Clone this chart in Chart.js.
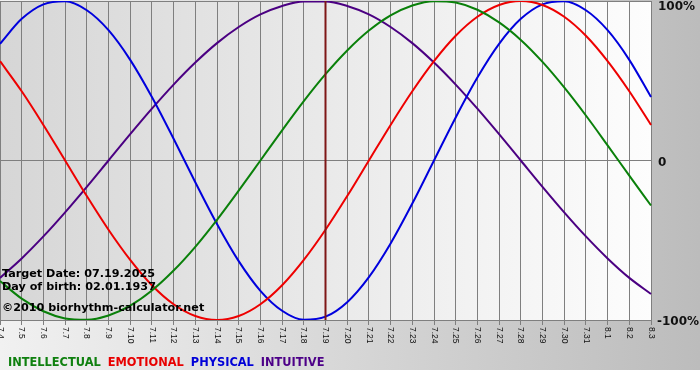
<!DOCTYPE html>
<html>
<head>
<meta charset="utf-8">
<script src="https://cdn.jsdelivr.net/npm/chart.js@4/dist/chart.umd.min.js"></script>
<style>
    html, body { margin: 0; padding: 0; background: #ffffff; }
    #wrap { width: 700px; height: 370px; background: linear-gradient(to right, #f1f1f1, #bcbcbc); }
</style>
</head>
<body>
<div id="wrap"><canvas id="bio" width="700" height="370"></canvas></div>
<script>
// days shown on the x axis
const days = ['7.4', '7.5', '7.6', '7.7', '7.8', '7.9', '7.10', '7.11', '7.12', '7.13', '7.14',
    '7.15', '7.16', '7.17', '7.18', '7.19', '7.20', '7.21', '7.22', '7.23', '7.24', '7.25',
    '7.26', '7.27', '7.28', '7.29', '7.30', '7.31', '8.1', '8.2', '8.3'];

// cycle values in percent, one per day
const intellectual = [-75.6, -86.6, -94.5, -99, -99.9, -97.2, -91, -81.5, -69, -54.1, -37.2, -18.9, 0, 18.9, 37.2, 54.1,
    69, 81.5, 91, 97.2, 99.9, 99, 94.5, 86.6, 75.6, 61.8, 45.8, 28.2, 9.5, -9.5, -28.2];
const emotional = [62.3, 43.4, 22.3, 0, -22.3, -43.4, -62.3, -78.2, -90.1, -97.5, -100, -97.5, -90.1, -78.2, -62.3, -43.4,
    -22.3, 0, 22.3, 43.4, 62.3, 78.2, 90.1, 97.5, 100, 97.5, 90.1, 78.2, 62.3, 43.4, 22.3];
const physical = [73.1, 88.8, 97.9, 99.8, 94.2, 81.7, 63.1, 39.8, 13.6, -13.6, -39.8, -63.1, -81.7, -94.2, -99.8, -97.9,
    -88.8, -73.1, -52, -27, 0, 27, 52, 73.1, 88.8, 97.9, 99.8, 94.2, 81.7, 63.1, 39.8];
const intuitive = [-73.6, -61.4, -47.6, -32.5, -16.5, 0, 16.5, 32.5, 47.6, 61.4, 73.6, 83.7, 91.6, 96.9, 99.7, 99.7,
    96.9, 91.6, 83.7, 73.6, 61.4, 47.6, 32.5, 16.5, 0, -16.5, -32.5, -47.6, -61.4, -73.6, -83.7];

const yTicks = [100, 0, -100];
const yTickLabels = ['100%', '0', '-100%'];
const targetDay = '7.19';
const infoLines = ['Target Date: 07.19.2025', 'Day of birth: 02.01.1937', '\u00a92010 biorhythm-calculator.net'];

const legendItems = [
    { text: 'INTELLECTUAL', color: '#0f800f' },
    { text: 'EMOTIONAL', color: '#e80000' },
    { text: 'PHYSICAL', color: '#0000d8' },
    { text: 'INTUITIVE', color: '#4d0088' }
];

const decor = {
    id: 'decor',
    beforeDraw(chart) {
        const { ctx, chartArea: a } = chart;
        const g = ctx.createLinearGradient(a.left, 0, a.right, 0);
        g.addColorStop(0, '#d6d6d6');
        g.addColorStop(1, '#fdfdfd');
        ctx.save();
        ctx.fillStyle = g;
        ctx.fillRect(a.left, a.top, a.right - a.left, a.bottom - a.top);
        ctx.restore();
    },
    afterDatasetsDraw(chart) {
        const { ctx, chartArea: a } = chart;
        const x = chart.scales.x.getPixelForValue(days.indexOf(targetDay));
        ctx.save();
        ctx.strokeStyle = '#7e1616';
        ctx.lineWidth = 2;
        ctx.beginPath();
        ctx.moveTo(x, a.top);
        ctx.lineTo(x, a.bottom);
        ctx.stroke();
        ctx.restore();
    },
    afterDraw(chart) {
        const { ctx, chartArea: a } = chart;
        const xs = chart.scales.x, ys = chart.scales.y;
        ctx.save();

        // day labels, turned clockwise
        ctx.fillStyle = '#111';
        ctx.font = '8.5px "Liberation Sans"';
        ctx.textAlign = 'left';
        ctx.textBaseline = 'middle';
        days.forEach(function(d, i) {
            ctx.save();
            ctx.translate(xs.getPixelForValue(i), a.bottom + 7);
            ctx.rotate(Math.PI / 2);
            ctx.fillText(d, 0, 0);
            ctx.restore();
        });

        // percent labels on the right
        ctx.font = 'bold 12px "DejaVu Sans"';
        ctx.fillStyle = '#111';
        yTicks.forEach(function(v, i) {
            const y = Math.max(ys.getPixelForValue(v) + 2, a.top + 6);
            ctx.fillText(yTickLabels[i], a.right + (v < 0 ? 6 : 7), y);
        });

        // info text
        ctx.textBaseline = 'alphabetic';
        ctx.font = 'bold 11.2px "DejaVu Sans"';
        ctx.fillStyle = '#000';
        ctx.fillText(infoLines[0], 2, 277);
        ctx.fillText(infoLines[1], 2, 290);
        ctx.fillText(infoLines[2], 2, 311);

        // legend
        ctx.font = 'bold 11.4px "DejaVu Sans"';
        let lx = 8;
        legendItems.forEach(function(it) {
            ctx.fillStyle = it.color;
            ctx.fillText(it.text, lx, 366);
            lx += ctx.measureText(it.text).width + 7;
        });
        ctx.restore();
    }
};

function line(data, color) {
    return { data: data, borderColor: color, borderWidth: 2, pointRadius: 0, cubicInterpolationMode: 'monotone', fill: false };
}

new Chart(document.getElementById('bio'), {
    type: 'line',
    data: {
        labels: days,
        datasets: [
            line(intellectual, '#0a800a'),
            line(emotional, '#ee0000'),
            line(physical, '#0000dd'),
            line(intuitive, '#4b0082')
        ]
    },
    options: {
        responsive: false,
        animation: false,
        layout: { padding: { top: 1, left: 0, right: 0, bottom: 0 } },
        plugins: { legend: { display: false }, tooltip: { enabled: false } },
        scales: {
            x: {
                offset: false,
                grid: { color: '#7f7f7f', lineWidth: 1, drawTicks: true, tickLength: 5 },
                border: { display: false },
                ticks: { display: false },
                afterFit: function(s) { s.height = 50; }
            },
            y: {
                position: 'right',
                min: -100,
                max: 100,
                grid: { color: '#7f7f7f', lineWidth: 1, drawTicks: false },
                border: { display: false },
                ticks: { display: false, stepSize: 100 },
                afterFit: function(s) { s.width = 49; }
            }
        }
    },
    plugins: [decor]
});
</script>
</body>
</html>
